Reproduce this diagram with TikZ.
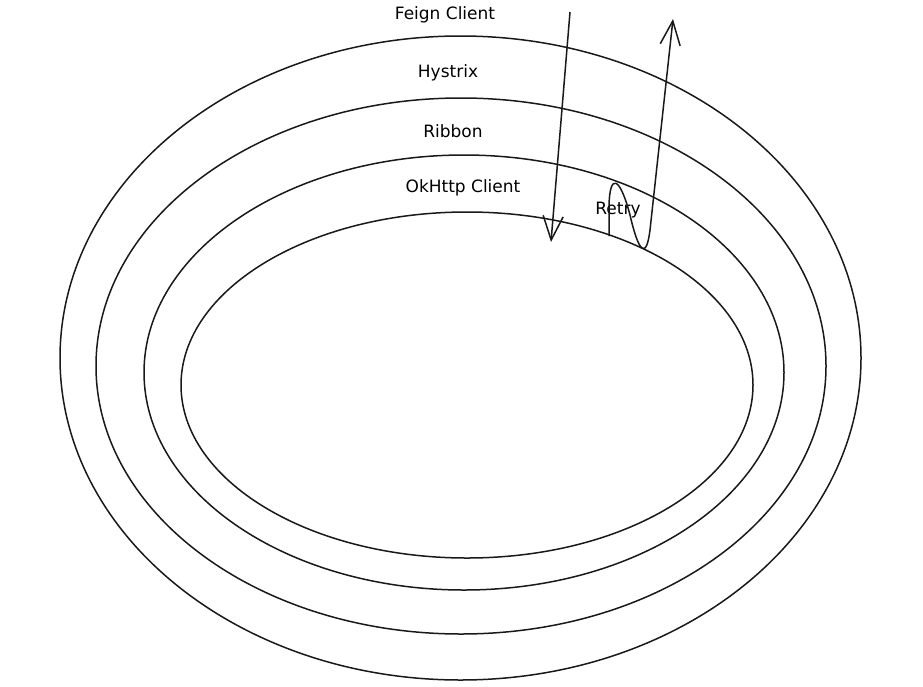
\documentclass[tikz,border=0pt]{standalone}
\usepackage{fontspec}
\setmainfont{DejaVu Sans}
\usetikzlibrary{arrows.meta}

\begin{document}
\begin{tikzpicture}[
  x=1pt, y=-1pt,
  ring/.style={draw=black!90,line width=1.5pt},
  layer/.style={font=\fontsize{17}{20}\selectfont,inner sep=1pt},
  call/.style={draw=black!90,line width=1.5pt,-{Straight Barb[length=24pt,width=20pt]}}
]
  \useasboundingbox (0,0) rectangle (923,686);

  % the four layers, outside in
  \draw[ring] (460.5,358) ellipse [x radius=400.5,y radius=322];
  \draw[ring] (461,366) ellipse [x radius=365,y radius=268];
  \draw[ring] (464,372.5) ellipse [x radius=320,y radius=217.5];
  \draw[ring] (467,385) ellipse [x radius=286,y radius=173];

  \node[layer] (feign) at (445,15) {Feign Client};
  \node[layer] (hystrix) at (448,73) {Hystrix};
  \node[layer] (ribbon) at (453,131) {Ribbon};
  \node[layer] (okhttp) at (463,188) {OkHttp Client};
  \node[layer] (retry) at (618,210) {Retry};

  \coordinate (req in) at (570,12);
  \coordinate (req out) at (551,242);
  \coordinate (retry start) at (609,236);
  \coordinate (resp out) at (673,19);

  \draw[call] (req in) -- (req out);
  \draw[call] (retry start) -- (609,205)
    .. controls (610,172) and (620,177) .. (630,215)
    .. controls (638,250) and (646,262) .. (650,230)
    -- (resp out);
\end{tikzpicture}
\end{document}
